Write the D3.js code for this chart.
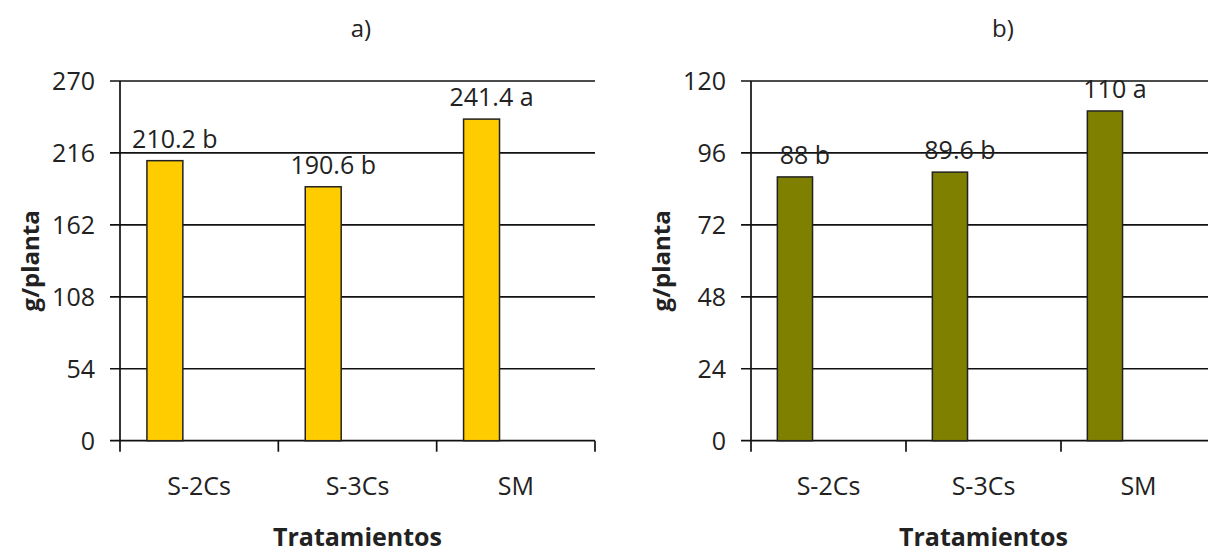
<!DOCTYPE html>
<html>
<head>
<meta charset="utf-8">
<script src="https://cdn.jsdelivr.net/npm/d3@7"></script>
<style>
  body { margin: 0; background: #fff; }
  text { font-family: "Open Sans", "Noto Sans", sans-serif; fill: #222; }
</style>
</head>
<body>
<svg id="chart" width="1208" height="550"></svg>
<script>
const categories = ["S-2Cs", "S-3Cs", "SM"];

const valuesA = [210.2, 190.6, 241.4];
const lettersA = ["b", "b", "a"];
const ticksA = [0, 54, 108, 162, 216, 270];

const valuesB = [88, 89.6, 110];
const lettersB = ["b", "b", "a"];
const ticksB = [0, 24, 48, 72, 96, 120];

const svg = d3.select("#chart");

function drawPanel(opts) {
    const x = d3.scaleBand()
        .domain(categories)
        .range([opts.left, opts.right]);

    const y = d3.scaleLinear()
        .domain([0, d3.max(opts.ticks)])
        .range([440.7, 81]);

    const g = svg.append("g");
    const bw = x.bandwidth();

    // gridlines + left tick marks
    g.selectAll(".grid")
        .data(opts.ticks)
        .enter().append("line")
        .attr("x1", opts.left - 10)
        .attr("x2", opts.right)
        .attr("y1", d => y(d))
        .attr("y2", d => y(d))
        .attr("stroke", "#111")
        .attr("stroke-width", 1.7);

    // tick labels
    g.selectAll(".ylab")
        .data(opts.ticks)
        .enter().append("text")
        .attr("x", opts.left - 25)
        .attr("y", d => y(d))
        .attr("dy", "0.36em")
        .attr("text-anchor", "end")
        .style("font-size", "25px")
        .text(d => d);

    // y axis line
    g.append("line")
        .attr("x1", opts.left).attr("x2", opts.left)
        .attr("y1", y(d3.max(opts.ticks))).attr("y2", y(0) + 11)
        .attr("stroke", "#111")
        .attr("stroke-width", 1.7);

    // category tick marks
    const bounds = categories.map(c => x(c)).concat([opts.right]);
    g.selectAll(".xtick")
        .data(bounds.slice(1))
        .enter().append("line")
        .attr("x1", d => d).attr("x2", d => d)
        .attr("y1", y(0)).attr("y2", y(0) + 11)
        .attr("stroke", "#111")
        .attr("stroke-width", 1.7);

    // bars
    g.selectAll(".bar")
        .data(opts.values)
        .enter().append("rect")
        .attr("x", (d, i) => x(categories[i]) + bw * 0.17)
        .attr("width", bw * 0.227)
        .attr("y", d => y(d))
        .attr("height", d => y(0) - y(d))
        .attr("fill", opts.color)
        .attr("stroke", "#222")
        .attr("stroke-width", 1.5);

    // value labels
    g.selectAll(".vlab")
        .data(opts.values)
        .enter().append("text")
        .attr("x", (d, i) => x(categories[i]) + bw * 0.17 + bw * 0.227 / 2 + 10)
        .attr("y", d => y(d) - 13)
        .attr("text-anchor", "middle")
        .style("font-size", "25px")
        .text((d, i) => d + " " + opts.letters[i]);

    // category labels
    g.selectAll(".xlab")
        .data(categories)
        .enter().append("text")
        .attr("x", d => x(d) + bw / 2)
        .attr("y", 495)
        .attr("text-anchor", "middle")
        .style("font-size", "25px")
        .text(d => d);

    // axis titles
    g.append("text")
        .attr("x", (opts.left + opts.right) / 2)
        .attr("y", 546)
        .attr("text-anchor", "middle")
        .style("font-size", "25px")
        .style("font-weight", "bold")
        .text("Tratamientos");

    g.append("text")
        .attr("transform", `translate(${opts.left - 81},${(y(0) + y(d3.max(opts.ticks))) / 2}) rotate(-90)`)
        .attr("text-anchor", "middle")
        .style("font-size", "24px")
        .style("font-weight", "bold")
        .text("g/planta");

    // panel title
    g.append("text")
        .attr("x", opts.titleX)
        .attr("y", 37)
        .attr("text-anchor", "middle")
        .style("font-size", "24px")
        .text(opts.title);
}

drawPanel({ left: 120, right: 595, values: valuesA, letters: lettersA, ticks: ticksA,
            color: "#FFCC00", title: "a)", titleX: 361 });
drawPanel({ left: 751, right: 1216, values: valuesB, letters: lettersB, ticks: ticksB,
            color: "#808000", title: "b)", titleX: 1003 });
</script>
</body>
</html>
